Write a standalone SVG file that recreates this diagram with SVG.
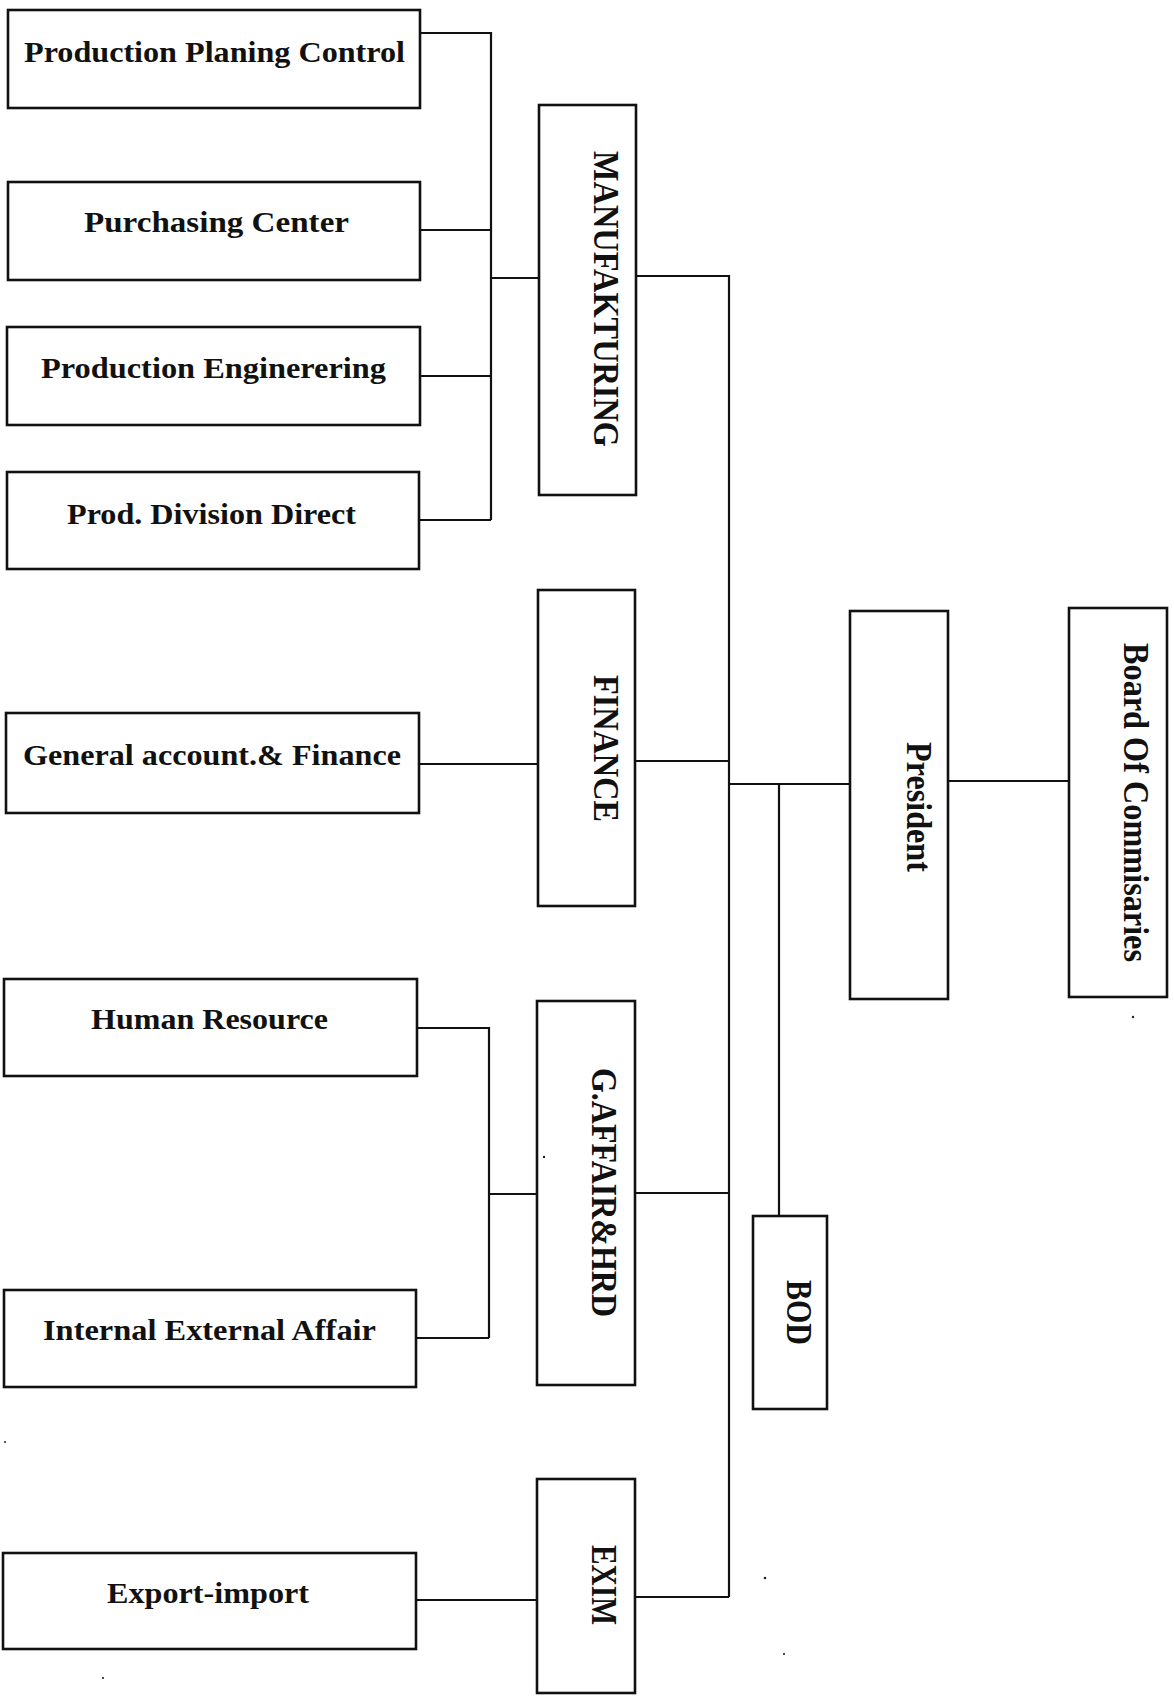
<svg xmlns="http://www.w3.org/2000/svg" width="1174" height="1696" viewBox="0 0 1174 1696">
<style>
.box{fill:#fff;stroke:#111;stroke-width:2.6}
.ln{fill:none;stroke:#111;stroke-width:2.2}
.h{font-family:"Liberation Serif","Times New Roman",serif;font-weight:bold;font-size:30px;fill:#111}
.v{font-family:"Liberation Serif","Times New Roman",serif;font-weight:bold;font-size:32px;fill:#111}
.dot{fill:#222}
</style>
<rect width="1174" height="1696" fill="#fff"/>
<g id="connectors">
<path class="ln" d="M420 33H491V520M420 230H491M420 376H491M419 520H491M491 278H539"/>
<path class="ln" d="M636 276H729V1597M419 764H538M635 761H729M729 784H850M779 784V1216M948 781H1069"/>
<path class="ln" d="M417 1028H489V1338M416 1338H489M489 1194H537M635 1193H729"/>
<path class="ln" d="M416 1600H537M635 1597H729"/>
</g>
<g id="ppc"><rect class="box" x="8" y="10" width="412" height="98"/><text class="h" x="24" y="62" textLength="381" lengthAdjust="spacingAndGlyphs">Production Planing Control</text></g>
<g id="purchasing"><rect class="box" x="8" y="182" width="412" height="98"/><text class="h" x="84" y="232" textLength="265" lengthAdjust="spacingAndGlyphs">Purchasing Center</text></g>
<g id="prodeng"><rect class="box" x="7" y="327" width="413" height="98"/><text class="h" x="41" y="378" textLength="345" lengthAdjust="spacingAndGlyphs">Production Enginerering</text></g>
<g id="proddiv"><rect class="box" x="7" y="472" width="412" height="97"/><text class="h" x="67" y="524" textLength="289" lengthAdjust="spacingAndGlyphs">Prod. Division Direct</text></g>
<g id="general"><rect class="box" x="6" y="713" width="413" height="100"/><text class="h" x="23" y="765" textLength="378" lengthAdjust="spacingAndGlyphs">General account.&amp; Finance</text></g>
<g id="hr"><rect class="box" x="4" y="979" width="413" height="97"/><text class="h" x="91" y="1029" textLength="237" lengthAdjust="spacingAndGlyphs">Human Resource</text></g>
<g id="internal"><rect class="box" x="4" y="1290" width="412" height="97"/><text class="h" x="43" y="1340" textLength="333" lengthAdjust="spacingAndGlyphs">Internal External Affair</text></g>
<g id="export"><rect class="box" x="3" y="1553" width="413" height="96"/><text class="h" x="107" y="1603" textLength="202" lengthAdjust="spacingAndGlyphs">Export-import</text></g>
<g id="manufakturing"><rect class="box" x="539" y="105" width="97" height="390"/><text class="v" transform="matrix(0,1,-1.12,0,594,151)" textLength="296" lengthAdjust="spacingAndGlyphs">MANUFAKTURING</text></g>
<g id="finance"><rect class="box" x="538" y="590" width="97" height="316"/><text class="v" transform="matrix(0,1,-1.12,0,594,675)" textLength="147" lengthAdjust="spacingAndGlyphs">FINANCE</text></g>
<g id="gaffair"><rect class="box" x="537" y="1001" width="98" height="384"/><text class="v" transform="matrix(0,1,-1.12,0,592,1068)" textLength="249" lengthAdjust="spacingAndGlyphs">G.AFFAIR&amp;HRD</text></g>
<g id="exim"><rect class="box" x="537" y="1479" width="98" height="214"/><text class="v" transform="matrix(0,1,-1.12,0,592,1545)" textLength="80" lengthAdjust="spacingAndGlyphs">EXIM</text></g>
<g id="bod"><rect class="box" x="753" y="1216" width="74" height="193"/><text class="v" transform="matrix(0,1,-1.12,0,787,1280)" textLength="65" lengthAdjust="spacingAndGlyphs">BOD</text></g>
<g id="president"><rect class="box" x="850" y="611" width="98" height="388"/><text class="v" transform="matrix(0,1,-1.12,0,907,742)" textLength="130" lengthAdjust="spacingAndGlyphs">President</text></g>
<g id="board"><rect class="box" x="1069" y="608" width="98" height="389"/><text class="v" transform="matrix(0,1,-1.12,0,1124,643)" textLength="319" lengthAdjust="spacingAndGlyphs">Board Of Commisaries</text></g>
<g id="specks">
<circle class="dot" cx="1133" cy="1017" r="1.2"/><circle class="dot" cx="765" cy="1578" r="1.3"/><circle class="dot" cx="784" cy="1654" r="1.1"/><circle class="dot" cx="103" cy="1678" r="1.1"/><circle class="dot" cx="5" cy="1442" r="1"/><circle class="dot" cx="544" cy="1157" r="1.2"/>
</g>
</svg>
